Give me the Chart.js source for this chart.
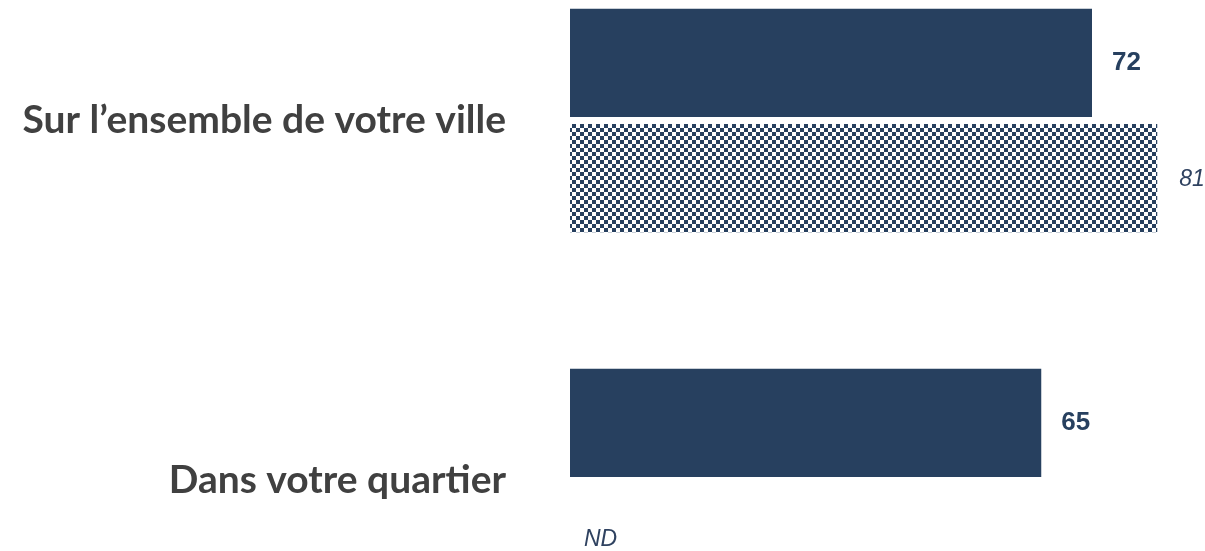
<!DOCTYPE html>
<html>
<head>
<meta charset="utf-8">
<script src="https://cdn.jsdelivr.net/npm/chart.js@4.4.1/dist/chart.umd.min.js"></script>
<style>
  html, body { margin: 0; padding: 0; background: #fff; }
  #wrap { width: 1205px; height: 551px; }
</style>
</head>
<body>
<div id="wrap"><canvas id="myChart"></canvas></div>
<script>
// horizontal bars, two series per category

const categories = ["Sur l\u2019ensemble de votre ville", "Dans votre quartier"];
const current = [72, 65];
const previous = [81, null];
const previousText = ["81", "ND"];

const navy = '#27405f';

// checkerboard fill for the second series
function checker() {
    const c = document.createElement('canvas');
    c.width = 8; c.height = 8;
    const g = c.getContext('2d');
    g.fillStyle = '#ffffff';
    g.fillRect(0, 0, 8, 8);
    g.fillStyle = navy;
    g.fillRect(0, 0, 4, 4);
    g.fillRect(4, 4, 4, 4);
    return g.createPattern(c, 'repeat');
}

// value texts after each bar
const valuePlugin = {
    id: 'values',
    afterDatasetsDraw(chart) {
        const ctx = chart.ctx;
        const x = chart.scales.x;

        ctx.save();
        ctx.textAlign = 'left';
        ctx.textBaseline = 'middle';
        chart.data.datasets.forEach((ds, d) => {
            const meta = chart.getDatasetMeta(d);
            meta.data.forEach((bar, i) => {
                const v = ds.data[i];
                const px = x.getPixelForValue(v === null ? 0 : v);
                if (d === 0) {
                    ctx.font = 'bold 26px "Liberation Sans"';
                    ctx.fillStyle = navy;
                    ctx.fillText(String(v), px + 20, bar.y);
                } else {
                    ctx.font = 'italic 23px "Liberation Sans"';
                    ctx.fillStyle = '#2f4260';
                    ctx.fillText(previousText[i], px + (v === null ? 14 : 22), bar.y + 2);
                }
            });
        });
        ctx.restore();
    }
};

const myChart = document.getElementById('myChart');

new Chart(myChart, {
    type: 'bar',
    data: {
        labels: categories,
        datasets: [
            {
                label: 'current',
                data: current,
                backgroundColor: navy,
                clip: false,
            },
            {
                label: 'previous',
                data: previous,
                backgroundColor: checker(),
                clip: false,
            },
        ],
    },
    options: {
        indexAxis: 'y',
        responsive: true,
        maintainAspectRatio: false,
        animation: false,
        categoryPercentage: 0.64,
        barPercentage: 0.94,
        layout: {
            padding: { left: 0, right: 11.5, top: 120.5, bottom: 70.5 },
        },
        scales: {
            x: { min: 0, max: 86, display: false },
            y: {
                offset: false,
                grid: { display: false },
                border: { display: false },
                ticks: {
                    padding: 56,
                    color: '#404040',
                    font: { family: 'Lato', size: 39, weight: 'bold' },
                },
                afterFit(scale) {
                    scale.width = 570;
                    scale.paddingTop = 0;
                    scale.paddingBottom = 0;
                },
            },
        },
        plugins: {
            legend: { display: false },
            tooltip: { enabled: false },
        },
    },
    plugins: [valuePlugin],
});
</script>
</body>
</html>
